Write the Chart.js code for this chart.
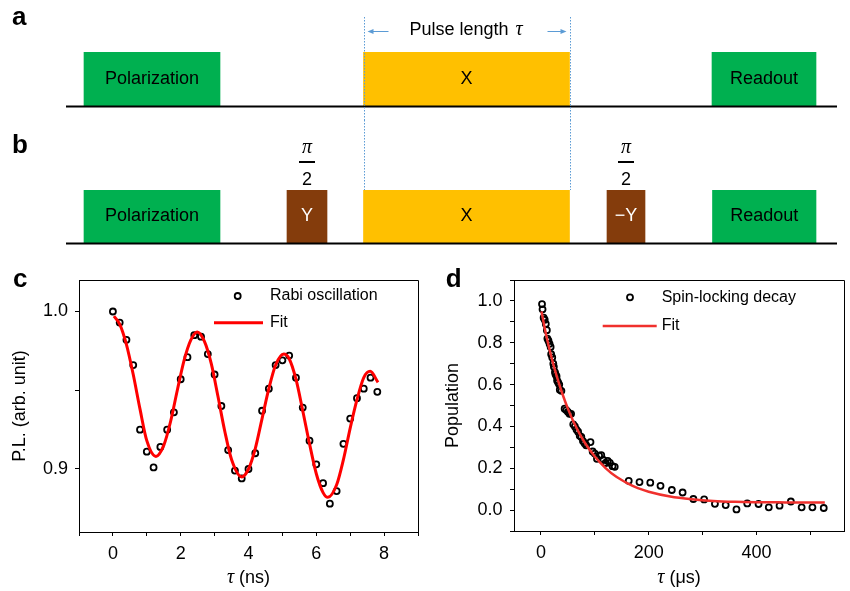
<!DOCTYPE html>
<html>
<head>
<meta charset="utf-8">
<script src="https://cdn.jsdelivr.net/npm/chart.js"></script>
<style>
  html, body { margin: 0; padding: 0; background: #fff; }
  #fig { position: relative; width: 850px; height: 591px; overflow: hidden; }
  canvas { position: absolute; }
</style>
</head>
<body>
<div id="fig">
  <canvas id="seq-a" width="850" height="120" style="left:0;top:0"></canvas>
  <canvas id="seq-b" width="850" height="130" style="left:0;top:120px"></canvas>
  <canvas id="rabi" width="425" height="331" style="left:0;top:260px"></canvas>
  <canvas id="lock" width="425" height="331" style="left:425px;top:260px"></canvas>
</div>
<script>
// pulse sequences, positions along an arbitrary time line
const timeline = [0, 850];
const baseLine = [66, 837];
const seqALabels = ['Polarization', 'X', 'Readout'];
const seqASpans = [[84, 220], [363.5, 569.5], [712, 816]];
const seqBLabels = ['Polarization', 'Y', 'X', '\u2212Y', 'Readout'];
const seqBSpans = [[84, 220], [287, 327], [363.5, 569.5], [607, 645], [712.5, 816]];
const pulseColors = {'Polarization': '#00b050', 'X': '#ffc000', 'Y': '#843c0c', '\u2212Y': '#843c0c', 'Readout': '#00b050'};

// c: Rabi oscillation
const rabiTau = [0, 0.2, 0.4, 0.6, 0.8, 1.0, 1.2, 1.4, 1.6, 1.8, 2.0, 2.2, 2.4, 2.6, 2.8, 3.0, 3.2, 3.4, 3.6, 3.8,
                 4.0, 4.2, 4.4, 4.6, 4.8, 5.0, 5.2, 5.4, 5.6, 5.8, 6.0, 6.2, 6.4, 6.6, 6.8, 7.0, 7.2, 7.4, 7.6, 7.8];
const rabiPL = [1.000, 0.993, 0.982, 0.966, 0.925, 0.911, 0.901, 0.914, 0.925, 0.936, 0.957, 0.971, 0.985, 0.984, 0.973, 0.960, 0.940, 0.912, 0.899, 0.894,
                0.900, 0.910, 0.937, 0.951, 0.966, 0.969, 0.972, 0.958, 0.939, 0.918, 0.903, 0.891, 0.878, 0.886, 0.916, 0.932, 0.945, 0.951, 0.958, 0.949];
const rabiFitTau = [0.03, 0.2, 0.4, 0.6, 0.8, 1.0, 1.27, 1.5, 1.7, 1.9, 2.1, 2.3, 2.49, 2.7, 2.9, 3.1, 3.3, 3.5, 3.8,
                    4.0, 4.2, 4.4, 4.6, 4.8, 5.04, 5.2, 5.4, 5.6, 5.8, 6.0, 6.2, 6.34, 6.6, 6.8, 7.0, 7.2, 7.4, 7.59, 7.82];
const rabiFitPL = [0.997, 0.992, 0.979, 0.960, 0.938, 0.918, 0.908, 0.915, 0.930, 0.950, 0.969, 0.982, 0.987, 0.981, 0.967, 0.946, 0.924, 0.906, 0.895,
                   0.900, 0.913, 0.932, 0.951, 0.966, 0.973, 0.970, 0.957, 0.937, 0.916, 0.897, 0.885, 0.882, 0.890, 0.906, 0.926, 0.944, 0.958, 0.962, 0.955];

// d: spin-locking decay
const lockTau = [2, 3, 5, 7, 9, 11, 12, 14, 16, 18, 19, 21, 23, 24, 26, 27, 29, 30, 32, 34, 35, 38, 44, 47, 50, 53, 56, 60, 63, 66,
                 69, 72, 75, 78, 81, 84, 92, 96, 100, 104, 108, 112, 116, 120, 124, 128, 133, 137,
                 163, 183, 203, 222, 243, 263, 283, 303, 323, 343, 363, 383, 404, 423, 443, 464, 484, 504, 525];
const lockPop = [0.985, 0.960, 0.920, 0.910, 0.890, 0.860, 0.820, 0.810, 0.795, 0.780, 0.745, 0.730, 0.700, 0.685, 0.660, 0.650, 0.640, 0.620, 0.610, 0.600,
                 0.575, 0.570, 0.485, 0.478, 0.470, 0.460, 0.460, 0.410, 0.400, 0.385, 0.375, 0.355, 0.350, 0.330, 0.320, 0.310, 0.325, 0.280, 0.270, 0.245,
                 0.260, 0.263, 0.240, 0.225, 0.235, 0.226, 0.210, 0.207,
                 0.140, 0.134, 0.131, 0.116, 0.096, 0.084, 0.053, 0.051, 0.030, 0.024, 0.003, 0.032, 0.029, 0.013, 0.021, 0.041, 0.013, 0.013, 0.010];
const lockFitTau = [1, 10, 20, 30, 40, 50, 60, 80, 100, 120, 140, 160, 180, 200, 240, 280, 320, 360, 400, 440, 480, 527];
const lockFitPop = [0.950, 0.833, 0.726, 0.634, 0.555, 0.485, 0.425, 0.328, 0.256, 0.201, 0.159, 0.129, 0.105, 0.088, 0.065, 0.052, 0.044, 0.040, 0.038, 0.037, 0.036, 0.036];

const SANS = '"Liberation Sans", Arial, Helvetica, sans-serif';
const SERIF = '"Liberation Serif", "Times New Roman", serif';
const BLUE = '#5b9bd5';

Chart.defaults.font.family = SANS;
Chart.defaults.color = '#000';
Chart.defaults.animation = false;

function toPoints(xs, ys) {
    return xs.map((x, i) => ({x: x, y: ys[i]}));
}

function panelLetter(ctx, letter, x, y) {
    ctx.save();
    ctx.font = 'bold 26px ' + SANS;
    ctx.fillStyle = '#000';
    ctx.textAlign = 'left';
    ctx.textBaseline = 'alphabetic';
    ctx.fillText(letter, x, y);
    ctx.restore();
}

// text with an italic serif tau in front, centred on cx
function tauText(ctx, rest, cx, y, size) {
    ctx.save();
    ctx.textBaseline = 'middle';
    ctx.textAlign = 'left';
    ctx.font = 'italic ' + (size + 2) + 'px ' + SERIF;
    const w1 = ctx.measureText('\u03c4').width;
    ctx.font = size + 'px ' + SANS;
    const w2 = ctx.measureText(rest).width;
    let x = cx - (w1 + w2) / 2;
    ctx.font = 'italic ' + (size + 2) + 'px ' + SERIF;
    ctx.fillText('\u03c4', x, y);
    ctx.font = size + 'px ' + SANS;
    ctx.fillText(rest, x + w1, y);
    ctx.restore();
}

function arrow(ctx, x0, x1, y) {
    const dir = Math.sign(x1 - x0);
    ctx.beginPath();
    ctx.moveTo(x0, y);
    ctx.lineTo(x1 - dir * 5, y);
    ctx.stroke();
    ctx.beginPath();
    ctx.moveTo(x1, y);
    ctx.lineTo(x1 - dir * 6, y - 2.5);
    ctx.lineTo(x1 - dir * 6, y + 2.5);
    ctx.closePath();
    ctx.fill();
}

function drawPulses(chart) {
    const ctx = chart.ctx;
    const xs = chart.scales.x;
    const area = chart.chartArea;
    ctx.save();
    chart.data.datasets.forEach((ds, i) => {
        const bar = chart.getDatasetMeta(i).data[0];
        ctx.fillStyle = ds.label.indexOf('Y') >= 0 ? '#fff' : '#000';
        ctx.font = '18px ' + SANS;
        ctx.textAlign = 'center';
        ctx.textBaseline = 'middle';
        ctx.fillText(ds.label, (bar.x + bar.base) / 2, bar.y);
    });
    ctx.strokeStyle = '#000';
    ctx.lineWidth = 2;
    ctx.beginPath();
    ctx.moveTo(xs.getPixelForValue(baseLine[0]), area.bottom + 0.5);
    ctx.lineTo(xs.getPixelForValue(baseLine[1]), area.bottom + 0.5);
    ctx.stroke();
    ctx.restore();
}

function dottedEdges(chart, span, y0, y1) {
    const ctx = chart.ctx;
    const xs = chart.scales.x;
    ctx.save();
    ctx.strokeStyle = BLUE;
    ctx.lineWidth = 1;
    ctx.setLineDash([1.5, 1.5]);
    span.forEach(v => {
        const px = Math.round(xs.getPixelForValue(v)) + 0.5;
        ctx.beginPath();
        ctx.moveTo(px, y0);
        ctx.lineTo(px, y1);
        ctx.stroke();
    });
    ctx.restore();
}

function sequenceChart(id, labels, spans, padTop, padBottom, extra) {
    return new Chart(document.getElementById(id), {
        type: 'bar',
        data: {
            labels: [''],
            datasets: labels.map((name, i) => ({
                label: name,
                data: [spans[i]],
                backgroundColor: pulseColors[name],
                borderWidth: 0,
                grouped: false,
                barPercentage: 1,
                categoryPercentage: 1
            }))
        },
        options: {
            responsive: false,
            indexAxis: 'y',
            events: [],
            layout: {padding: {top: padTop, bottom: padBottom, left: 0, right: 0}},
            scales: {
                x: {type: 'linear', min: timeline[0], max: timeline[1], display: false},
                y: {display: false}
            },
            plugins: {legend: {display: false}, tooltip: {enabled: false}}
        },
        plugins: [{id: 'seq', afterDatasetsDraw: chart => { drawPulses(chart); extra(chart); }}]
    });
}

// a
sequenceChart('seq-a', seqALabels, seqASpans, 52, 14, chart => {
    const ctx = chart.ctx;
    const xs = chart.scales.x;
    const span = seqASpans[1];
    dottedEdges(chart, span, 17, chart.height);
    ctx.save();
    ctx.fillStyle = '#000';
    ctx.textBaseline = 'alphabetic';
    ctx.textAlign = 'left';
    ctx.font = '18px ' + SANS;
    const x0 = xs.getPixelForValue(span[0]) + 46;
    ctx.fillText('Pulse length', x0, 35);
    const w = ctx.measureText('Pulse length ').width;
    ctx.font = 'italic 20px ' + SERIF;
    ctx.fillText('\u03c4', x0 + w + 2, 35);
    ctx.strokeStyle = BLUE;
    ctx.fillStyle = BLUE;
    ctx.lineWidth = 1;
    arrow(ctx, xs.getPixelForValue(span[0]) + 25, xs.getPixelForValue(span[0]) + 4, 31.5);
    arrow(ctx, xs.getPixelForValue(span[1]) - 22, xs.getPixelForValue(span[1]) - 3, 31.5);
    ctx.restore();
    panelLetter(ctx, 'a', 12, 25);
});

// b
sequenceChart('seq-b', seqBLabels, seqBSpans, 70, 7, chart => {
    const ctx = chart.ctx;
    dottedEdges(chart, seqBSpans[2], 0, chart.chartArea.top);
    ctx.save();
    ctx.fillStyle = '#000';
    ctx.textAlign = 'center';
    ctx.textBaseline = 'alphabetic';
    chart.data.datasets.forEach((ds, i) => {
        if (ds.label.indexOf('Y') < 0) return;
        const bar = chart.getDatasetMeta(i).data[0];
        const cx = (bar.x + bar.base) / 2;
        ctx.font = 'italic 20px ' + SERIF;
        ctx.fillText('\u03c0', cx, 33);
        ctx.fillRect(cx - 8, 41, 16, 2);
        ctx.font = '18px ' + SANS;
        ctx.fillText('2', cx, 65);
    });
    ctx.restore();
    panelLetter(ctx, 'b', 12, 33);
});

function frameAndLegend(letter, letterX, legend, xTitle) {
    return {
        id: 'frame',
        afterDatasetsDraw(chart) {
            const ctx = chart.ctx;
            const a = chart.chartArea;
            const fit = chart.data.datasets[0];
            const pts = chart.data.datasets[1];
            ctx.save();
            ctx.strokeStyle = '#000';
            ctx.lineWidth = 1;
            ctx.beginPath();
            ctx.moveTo(a.left, Math.round(a.top) + 0.5);
            ctx.lineTo(Math.round(a.right) + 0.5, Math.round(a.top) + 0.5);
            ctx.lineTo(Math.round(a.right) + 0.5, a.bottom);
            ctx.stroke();

            // legend
            ctx.strokeStyle = pts.borderColor;
            ctx.lineWidth = pts.borderWidth;
            ctx.beginPath();
            ctx.arc(a.left + legend.markX, a.top + legend.row1, pts.pointRadius, 0, Math.PI * 2);
            ctx.stroke();
            ctx.strokeStyle = fit.borderColor;
            ctx.lineWidth = fit.borderWidth;
            ctx.beginPath();
            ctx.moveTo(a.left + legend.line[0], a.top + legend.row2);
            ctx.lineTo(a.left + legend.line[1], a.top + legend.row2);
            ctx.stroke();
            ctx.fillStyle = '#000';
            ctx.font = '16px ' + SANS;
            ctx.textAlign = 'left';
            ctx.textBaseline = 'middle';
            ctx.fillText(pts.label, a.left + legend.textX, a.top + legend.row1);
            ctx.fillText(fit.label, a.left + legend.textX, a.top + legend.row2);
            ctx.restore();

            tauText(ctx, ' ' + xTitle, (a.left + a.right) / 2, 318, 18);
            panelLetter(ctx, letter, letterX, 27);
        }
    };
}

function axisOpts(extra) {
    return Object.assign({
        type: 'linear',
        grid: {drawOnChartArea: false, drawTicks: true, tickLength: 4, color: '#000', lineWidth: 1},
        border: {display: true, color: '#000', width: 1}
    }, extra);
}

// c
new Chart(document.getElementById('rabi'), {
    type: 'scatter',
    data: {
        datasets: [
            {label: 'Fit', type: 'line', data: toPoints(rabiFitTau, rabiFitPL), borderColor: '#ff0000', borderWidth: 3,
             pointRadius: 0, fill: false, showLine: true, cubicInterpolationMode: 'monotone'},
            {label: 'Rabi oscillation', data: toPoints(rabiTau, rabiPL), pointRadius: 3, borderWidth: 1.8,
             borderColor: '#000', backgroundColor: 'rgba(255,255,255,0)', showLine: false}
        ]
    },
    options: {
        responsive: false,
        events: [],
        layout: {padding: {top: 20, right: 4, left: 0, bottom: 0}},
        scales: {
            x: axisOpts({
                min: -1, max: 9,
                afterFit: s => { s.height = 59; },
                ticks: {stepSize: 1, autoSkip: false, includeBounds: false, maxRotation: 0, padding: 7, font: {size: 18},
                        callback: v => (v % 2 === 0 ? String(v) : '')}
            }),
            y: axisOpts({
                min: 0.86, max: 1.02,
                afterFit: s => { s.width = 79; },
                title: {display: true, text: 'P.L. (arb. unit)', font: {size: 18}, padding: {top: 9, bottom: 0}},
                ticks: {stepSize: 0.05, autoSkip: false, includeBounds: false, padding: 7, font: {size: 18},
                        callback: v => (Math.abs(v * 10 - Math.round(v * 10)) < 1e-6 ? v.toFixed(1) : '')}
            })
        },
        plugins: {legend: {display: false}, tooltip: {enabled: false}}
    },
    plugins: [frameAndLegend('c', 13, {markX: 158.7, textX: 191, row1: 16, row2: 42.7, line: [135, 184]}, '(ns)')]
});

// d
new Chart(document.getElementById('lock'), {
    type: 'scatter',
    data: {
        datasets: [
            {label: 'Fit', type: 'line', data: toPoints(lockFitTau, lockFitPop), borderColor: '#f0302d', borderWidth: 2.5,
             pointRadius: 0, fill: false, showLine: true, cubicInterpolationMode: 'monotone'},
            {label: 'Spin-locking decay', data: toPoints(lockTau, lockPop), pointRadius: 3, borderWidth: 1.8,
             borderColor: '#000', backgroundColor: 'rgba(255,255,255,0)', showLine: false}
        ]
    },
    options: {
        responsive: false,
        events: [],
        layout: {padding: {top: 20, right: 2, left: 0, bottom: 0}},
        scales: {
            x: axisOpts({
                min: -50, max: 563,
                afterFit: s => { s.height = 60; },
                ticks: {stepSize: 100, autoSkip: false, includeBounds: false, maxRotation: 0, padding: 7, font: {size: 18},
                        callback: v => (v % 200 === 0 ? String(Math.abs(v) < 1e-9 ? 0 : v) : '')}
            }),
            y: axisOpts({
                min: -0.1, max: 1.1,
                afterFit: s => { s.width = 89; },
                title: {display: true, text: 'Population', font: {size: 18}, padding: {top: 17.5, bottom: 0}},
                ticks: {stepSize: 0.1, autoSkip: false, includeBounds: false, padding: 7.5, font: {size: 18},
                        callback: v => {
                            const k = Math.round(v * 10);
                            if (k % 2 !== 0) return '';
                            return (k === 0 ? 0 : v).toFixed(1);
                        }}
            })
        },
        plugins: {legend: {display: false}, tooltip: {enabled: false}}
    },
    plugins: [frameAndLegend('d', 20.7, {markX: 116, textX: 147.7, row1: 17.3, row2: 46, line: [88.7, 142.7]}, '(\u03bcs)')]
});
</script>
</body>
</html>
